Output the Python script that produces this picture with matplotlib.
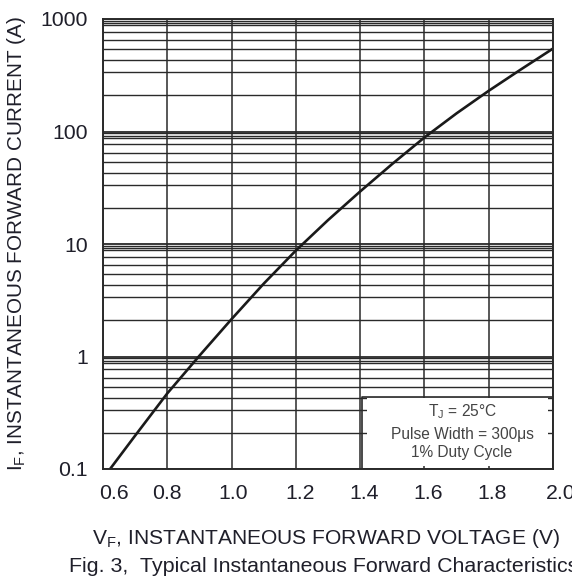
import matplotlib
matplotlib.use("Agg")
import matplotlib.pyplot as plt
import matplotlib.transforms as mtransforms
from matplotlib.patches import Rectangle

plt.rcParams['font.family'] = ['Liberation Sans', 'DejaVu Sans']
plt.rcParams['mathtext.fontset'] = 'custom'
plt.rcParams['mathtext.rm'] = 'Liberation Sans'

# ---- data ----
vf = [0.622, 0.70, 0.80, 0.90, 1.0, 1.1, 1.2, 1.3, 1.4, 1.5, 1.6, 1.7, 1.8, 1.9, 2.0]
i_f = [0.1, 0.198, 0.47, 1.016, 2.15, 4.44, 8.75, 16.3, 29.3, 51.5, 88.5, 145.0, 230.0, 356.0, 546.0]

x_ticks = [0.6, 0.8, 1.0, 1.2, 1.4, 1.6, 1.8, 2.0]
x_ticklabels = ["0.6", "0.8", "1.0", "1.2", "1.4", "1.6", "1.8", "2.0"]
y_ticks = [0.1, 1, 10, 100, 1000]
y_ticklabels = ["0.1", "1", "10", "100", "1000"]
decades = [0.1, 1, 10, 100]
minor_grid_mult = [9.6, 9.2, 8.8, 7.7, 6.45, 5.4, 4.3, 3.35, 2.1]

legend_lines = [r"T$_\mathregular{J}$ = 25°C", "Pulse Width = 300μs", "1% Duty Cycle"]

xlabel = r"V$_\mathregular{F}$, INSTANTANEOUS FORWARD VOLTAGE (V)"
ylabel = r"I$_\mathregular{F}$, INSTANTANEOUS FORWARD CURRENT (A)"
caption = "Fig. 3,  Typical Instantaneous Forward Characteristics"

W, H = 572, 582
fig = plt.figure(figsize=(W / 100, H / 100), dpi=100)
ax = fig.add_axes([103 / W, 1 - 469 / H, 450 / W, 450 / H])
ax.set_yscale('log')
ax.set_xlim(0.6, 2.0)
ax.set_ylim(0.1, 1000)

gcol = '#2a2a2a'
tcol = '#1f1f2a'
# horizontal grid
for d in decades:
    for m in minor_grid_mult:
        ax.axhline(d * m, color=gcol, lw=1.0, zorder=1)
for y in y_ticks:
    ax.axhline(y, color=gcol, lw=1.3, zorder=1)
# vertical grid
for x in x_ticks:
    ax.axvline(x, color=gcol, lw=1.1, zorder=1)

# legend box (white block over grid, with border)
bx0, by0, bx1, by1 = 0.575, 0.0, 1.0, 0.1607
inset = 5 / 450
ax.add_patch(Rectangle((bx0 + inset, by0 + 3 / 450), (bx1 - bx0) - 2 * inset, (by1 - by0) - 3 / 450 - 1.5 / 450,
                       transform=ax.transAxes, facecolor='white', edgecolor='none', zorder=2))
ax.plot([bx0, bx0, bx1], [by0, by1, by1], transform=ax.transAxes, color=gcol, lw=1.2, zorder=3)

for txt, yy in zip(legend_lines, [0.127, 0.0756, 0.0356]):
    ax.text(0.798, yy, txt, transform=ax.transAxes, ha='center', va='center',
            fontsize=11.2, color='#444444', zorder=4)

# curve
ax.plot(vf, i_f, color='#1a1a1a', lw=1.9, zorder=5, solid_capstyle='butt', solid_joinstyle='round')

ax.set_xticks(x_ticks)
ax.set_xticklabels(x_ticklabels)
ax.set_yticks(y_ticks)
ax.set_yticklabels(y_ticklabels)
ax.yaxis.set_minor_locator(matplotlib.ticker.NullLocator())
ax.tick_params(axis='both', length=0, labelsize=15.3, labelcolor=tcol)
ax.tick_params(axis='x', pad=11)
ax.tick_params(axis='y', pad=11)

# per-label horizontal offsets, to mimic reference
x_offsets_px = [11, 0, 2, 4, 4, 4, 3, 8]
for lbl, dx in zip(ax.get_xticklabels(), x_offsets_px):
    lbl.set_transform(lbl.get_transform() + mtransforms.Affine2D().translate(dx, 0))

for s in ax.spines.values():
    s.set_color(gcol)
    s.set_linewidth(1.4)
    s.set_zorder(6)

fig.text(92 / W, 1 - 538 / H, xlabel, ha='left', va='center', fontsize=15.1, color=tcol)
fig.text(69 / W, 1 - 567 / H, caption, ha='left', va='center', fontsize=15.4, color=tcol)
fig.text(17 / W, 1 - 244 / H, ylabel, ha='center', va='center', rotation=90, fontsize=14.9, color=tcol)

fig.savefig('out.png', dpi=100, facecolor='white')
